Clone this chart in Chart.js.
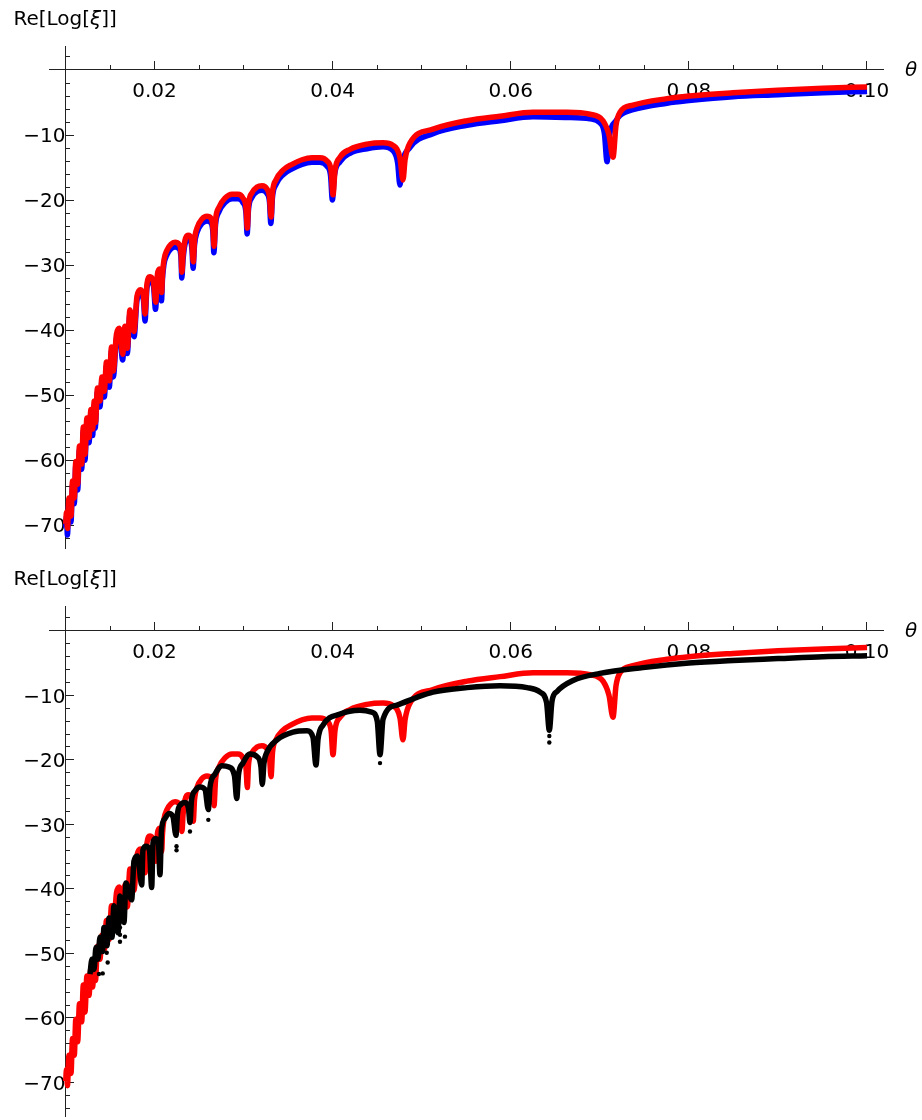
<!DOCTYPE html>
<html>
<head>
<meta charset="utf-8">
<script src="https://cdn.jsdelivr.net/npm/chart.js@4.4.1/dist/chart.umd.min.js"></script>
<style>
  html, body { margin: 0; padding: 0; background: #fff; }
  .panel { position: absolute; left: 0; width: 922px; height: 560px; }
  #p1 { top: 0; }
  #p2 { top: 560px; }
</style>
</head>
<body>
<div class="panel" id="p1"><canvas id="c1"></canvas></div>
<div class="panel" id="p2"><canvas id="c2"></canvas></div>
<script>
// [theta, Re[Log[xi]]]
const redCurve = [
  [0.01003,-69.8],[0.01011,-68.0],[0.01022,-70.5],[0.01039,-65.8],[0.01062,-68.6],[0.01079,-63.2],[0.01099,-65.8],
  [0.01116,-60.2],[0.01137,-63.7],[0.01157,-57.8],[0.01182,-60.6],[0.01200,-54.9],[0.01219,-59.1],[0.01241,-53.5],
  [0.01264,-56.5],[0.01286,-52.2],[0.01305,-55.2],[0.01323,-50.9],[0.01337,-54.2],[0.01359,-48.9],[0.01387,-50.9],
  [0.01410,-47.2],[0.01436,-49.4],[0.01460,-44.9],[0.01492,-47.8],[0.01517,-42.6],[0.01537,-46.3],[0.01573,-40.6],
  [0.01606,-39.7],[0.01642,-43.7],[0.01668,-39.4],[0.01694,-42.8],[0.01724,-36.9],[0.01769,-40.2],[0.01803,-34.8],
  [0.01842,-33.8],[0.01876,-34.8],[0.01893,-37.5],[0.01915,-32.9],[0.01949,-31.8],[0.01988,-32.6],[0.02013,-35.7],
  [0.02033,-31.4],[0.02056,-30.6],[0.02080,-34.2],
  [0.02089,-31.5],[0.02106,-29.2],[0.02140,-27.7],[0.02185,-26.8],[0.02230,-26.5],[0.02275,-26.8],[0.02297,-28.0],[0.02308,-31.1],
  [0.02320,-28.5],[0.02342,-26.2],[0.02376,-25.4],[0.02398,-25.5],[0.02421,-26.9],[0.02435,-29.5],
  [0.02449,-26.2],[0.02477,-24.3],[0.02533,-22.9],[0.02589,-22.5],[0.02634,-22.8],[0.02656,-24.3],[0.02668,-27.1],
  [0.02685,-23.1],[0.02724,-21.1],[0.02791,-19.7],[0.02870,-19.1],[0.02937,-19.1],[0.02993,-19.7],[0.03027,-21.2],[0.03042,-24.3],
  [0.03055,-20.8],[0.03094,-18.9],[0.03151,-18.0],[0.03207,-17.8],[0.03263,-18.3],[0.03291,-19.5],[0.03308,-22.6],
  [0.03325,-18.8],[0.03364,-16.9],[0.03443,-15.4],[0.03544,-14.5],[0.03656,-13.8],[0.03768,-13.5],[0.03858,-13.5],
  [0.03937,-14.0],[0.03982,-15.4],[0.04004,-19.2],
  [0.04027,-15.4],[0.04083,-13.4],[0.04195,-12.2],[0.04386,-11.4],[0.04566,-11.2],[0.04678,-11.6],[0.04756,-13.5],[0.04790,-16.9],
  [0.04813,-13.8],[0.04869,-11.2],[0.05127,-9.1],[0.05509,-7.8],[0.05879,-7.1],[0.06250,-6.5],[0.06632,-6.5],[0.06890,-6.8],
  [0.07036,-7.8],[0.07103,-10.0],[0.07148,-13.4],
  [0.07182,-8.5],[0.07227,-6.5],[0.07373,-5.4],[0.07755,-4.4],[0.08002,-4.0],[0.08496,-3.5],[0.09001,-3.1],[0.09507,-2.8],[0.10001,-2.6]
];

const blueCurve = [
  [0.01003,-70.4],[0.01011,-68.6],[0.01022,-71.5],[0.01039,-66.4],[0.01062,-69.5],[0.01079,-63.8],[0.01099,-66.7],
  [0.01116,-60.7],[0.01137,-64.6],[0.01157,-58.4],[0.01182,-61.4],[0.01200,-55.5],[0.01219,-60.0],[0.01241,-54.1],
  [0.01264,-57.3],[0.01286,-52.7],[0.01305,-56.2],[0.01323,-51.5],[0.01333,-55.1],[0.01359,-49.5],[0.01387,-51.8],
  [0.01410,-47.8],[0.01436,-50.3],[0.01460,-45.5],[0.01492,-48.8],[0.01517,-43.2],[0.01537,-47.2],[0.01573,-41.2],
  [0.01606,-40.3],[0.01642,-44.6],[0.01668,-40.0],[0.01694,-43.6],[0.01724,-37.5],[0.01771,-41.0],[0.01803,-35.4],
  [0.01842,-34.5],[0.01876,-35.4],[0.01893,-38.6],[0.01915,-33.5],[0.01949,-32.5],[0.01988,-33.2],[0.02011,-36.8],
  [0.02033,-32.0],[0.02056,-31.2],[0.02078,-35.5],
  [0.02089,-32.2],[0.02106,-29.9],[0.02140,-28.4],[0.02185,-27.5],[0.02230,-27.2],[0.02275,-27.5],[0.02297,-28.8],[0.02306,-32.0],
  [0.02320,-29.2],[0.02342,-26.8],[0.02376,-26.1],[0.02398,-26.2],[0.02421,-27.7],[0.02433,-30.5],
  [0.02449,-26.9],[0.02477,-25.0],[0.02533,-23.6],[0.02589,-23.2],[0.02634,-23.5],[0.02656,-25.1],[0.02666,-28.1],
  [0.02685,-23.8],[0.02724,-21.8],[0.02791,-20.4],[0.02870,-19.8],[0.02937,-19.8],[0.02993,-20.4],[0.03027,-22.0],[0.03040,-25.2],
  [0.03055,-21.5],[0.03094,-19.6],[0.03151,-18.7],[0.03207,-18.5],[0.03263,-19.0],[0.03291,-20.3],[0.03306,-23.6],
  [0.03325,-19.5],[0.03364,-17.6],[0.03443,-16.1],[0.03544,-15.2],[0.03656,-14.5],[0.03768,-14.2],[0.03858,-14.2],
  [0.03937,-14.8],[0.03977,-16.3],[0.03997,-20.0],
  [0.04020,-16.2],[0.04083,-14.1],[0.04195,-12.8],[0.04386,-12.1],[0.04566,-11.8],[0.04678,-12.4],[0.04730,-14.3],[0.04756,-17.7],
  [0.04780,-14.6],[0.04869,-11.9],[0.05127,-9.8],[0.05509,-8.5],[0.05879,-7.8],[0.06250,-7.2],[0.06632,-7.3],[0.06890,-7.5],
  [0.07000,-8.1],[0.07052,-9.8],[0.07081,-14.1],
  [0.07110,-10.0],[0.07182,-7.8],[0.07227,-7.0],[0.07373,-6.1],[0.07755,-5.1],[0.08002,-4.7],[0.08496,-4.1],[0.09001,-3.8],
  [0.09507,-3.5],[0.10001,-3.3]
];

const blackCurve = [
  [0.01275,-53.2],[0.01298,-50.9],[0.01320,-52.5],[0.01343,-49.1],[0.01365,-50.9],[0.01387,-47.5],[0.01416,-49.7],
  [0.01432,-46.0],[0.01466,-48.8],[0.01489,-44.5],[0.01522,-47.5],[0.01545,-42.6],[0.01590,-46.8],[0.01612,-41.1],
  [0.01657,-45.2],[0.01679,-39.1],[0.01743,-41.7],[0.01769,-35.7],[0.01809,-34.9],[0.01856,-39.4],
  [0.01870,-34.0],[0.01904,-33.4],[0.01943,-34.0],[0.01968,-39.8],
  [0.01983,-32.9],[0.02011,-32.2],[0.02044,-32.9],[0.02061,-37.8],
  [0.02078,-30.9],[0.02117,-29.1],[0.02162,-28.3],[0.02207,-28.8],[0.02241,-31.7],
  [0.02258,-28.3],[0.02297,-26.9],[0.02342,-26.6],[0.02381,-27.5],[0.02398,-29.7],
  [0.02415,-26.3],[0.02454,-24.8],[0.02510,-24.2],[0.02567,-24.6],[0.02604,-27.7],
  [0.02623,-24.2],[0.02679,-22.2],[0.02758,-20.9],[0.02836,-21.1],[0.02898,-22.5],[0.02923,-26.0],
  [0.02943,-22.3],[0.02993,-20.5],[0.03072,-19.1],[0.03150,-19.5],[0.03195,-21.1],[0.03210,-23.8],
  [0.03229,-20.5],[0.03263,-18.8],[0.03375,-16.9],[0.03555,-15.7],[0.03712,-15.5],[0.03779,-16.5],[0.03813,-20.8],
  [0.03836,-16.8],[0.03892,-14.6],[0.04083,-12.9],[0.04307,-12.3],[0.04439,-12.6],[0.04501,-14.0],[0.04532,-19.2],
  [0.04566,-13.7],[0.04723,-11.5],[0.04947,-10.3],[0.05127,-9.5],[0.05509,-8.8],[0.05879,-8.5],[0.06183,-8.8],
  [0.06329,-9.5],[0.06402,-11.1],[0.06433,-15.4],
  [0.06463,-10.9],[0.06520,-9.4],[0.06699,-7.7],[0.07002,-6.6],[0.07485,-5.7],[0.08002,-5.0],[0.08496,-4.6],
  [0.09001,-4.3],[0.09507,-4.0],[0.10001,-3.85]
];

const blackDots = [
  [0.06433,-16.3],[0.06433,-17.3],[0.04532,-20.5],[0.02604,-29.3],[0.02398,-31.1],[0.02247,-33.4],[0.02247,-34.0],
  [0.01668,-47.4],[0.01612,-46.0],[0.01612,-47.1],[0.01612,-48.2],[0.01463,-49.9],[0.01474,-51.4],[0.01418,-53.1],[0.01376,-53.2]
];

const xMajorTicks = [0.02, 0.04, 0.06, 0.08, 0.10];
const xMajorLabels = ["0.02", "0.04", "0.06", "0.08", "0.10"];
const xMinorTicks = [0.01, 0.015, 0.02, 0.025, 0.03, 0.035, 0.04, 0.045, 0.05, 0.055, 0.06, 0.065, 0.07, 0.075, 0.08, 0.085, 0.09, 0.095, 0.1];
const yMajorTicks = [-70, -60, -50, -40, -30, -20, -10];
const yMajorLabels = ["\u221270", "\u221260", "\u221250", "\u221240", "\u221230", "\u221220", "\u221210"];
const yMinorTicks = [2, 0, -2, -4, -6, -8, -10, -12, -14, -16, -18, -20, -22, -24, -26, -28, -30, -32, -34, -36, -38,
  -40, -42, -44, -46, -48, -50, -52, -54, -56, -58, -60, -62, -64, -66, -68, -70, -72, -74];

const xMin = 0.00815, xMax = 0.1018, xOrigin = 0.01;
const axisColor = "#222";
const font = { family: '"DejaVu Sans", sans-serif', size: 20 };

const pts = (list) => list.map(([x, y]) => ({ x, y }));
const fixTicks = (list) => (scale) => {
  scale.ticks = list.filter((v) => v >= scale.min && v <= scale.max).map((value) => ({ value }));
};
const noSpace = (horizontal) => (scale) => {
  if (horizontal) scale.height = 0; else scale.width = 0;
  scale.paddingLeft = scale.paddingRight = scale.paddingTop = scale.paddingBottom = 0;
};

const makeScales = (yMin, yMax) => ({
  x: {
    type: "linear", min: xMin, max: xMax, position: { y: 0 },
    afterBuildTicks: fixTicks(xMajorTicks), afterFit: noSpace(true),
    border: { color: axisColor, width: 1 },
    grid: { drawOnChartArea: false, tickLength: -9, tickColor: axisColor },
    ticks: { autoSkip: false, maxRotation: 0, padding: 19, color: "#000", font,
      callback: (v) => xMajorLabels[xMajorTicks.indexOf(v)] },
  },
  x2: {
    type: "linear", min: xMin, max: xMax, position: { y: 0 },
    afterBuildTicks: fixTicks(xMinorTicks), afterFit: noSpace(true),
    border: { display: false },
    grid: { drawOnChartArea: false, tickLength: -5, tickColor: axisColor },
    ticks: { display: false, autoSkip: false },
  },
  y: {
    type: "linear", min: yMin, max: yMax, position: { x: xOrigin },
    afterBuildTicks: fixTicks(yMajorTicks), afterFit: noSpace(false),
    border: { color: axisColor, width: 1 },
    grid: { drawOnChartArea: false, tickLength: -9, tickColor: axisColor },
    ticks: { autoSkip: false, padding: 18, labelOffset: 2, color: "#000", font,
      callback: (v) => yMajorLabels[yMajorTicks.indexOf(v)] },
  },
  y2: {
    type: "linear", min: yMin, max: yMax, position: { x: xOrigin },
    afterBuildTicks: fixTicks(yMinorTicks), afterFit: noSpace(false),
    border: { display: false },
    grid: { drawOnChartArea: false, tickLength: -5, tickColor: axisColor },
    ticks: { display: false, autoSkip: false },
  },
});

const axisTitles = {
  id: "axisTitles",
  afterDraw(chart) {
    const { ctx, chartArea, scales } = chart;
    const ox = scales.x.getPixelForValue(xOrigin);
    const oy = scales.y.getPixelForValue(0);
    ctx.save();
    ctx.fillStyle = "#000";
    ctx.textBaseline = "alphabetic";
    let x = ox - 52;
    const y = chartArea.top - 21;
    [["Re[Log[", ""], ["\u03be", "italic "], ["]]", ""]].forEach(([t, style]) => {
      ctx.font = `${style}20px "DejaVu Sans"`;
      ctx.fillText(t, x, y);
      x += ctx.measureText(t).width;
    });
    ctx.font = 'italic 20px "DejaVu Sans"';
    ctx.textBaseline = "middle";
    ctx.fillText("\u03b8", chartArea.right + 22, oy + 1);
    ctx.restore();
  },
};

const lineSet = (data, color) => ({
  data: pts(data), showLine: true, borderColor: color, backgroundColor: color,
  borderWidth: 5.5, borderJoinStyle: "round", borderCapStyle: "butt", cubicInterpolationMode: "monotone",
  pointRadius: 0, pointHoverRadius: 0, xAxisID: "x", yAxisID: "y",
});

const buildChart = (canvas, datasets, yMin, yMax, padBottom) =>
  new Chart(canvas.getContext("2d"), {
    type: "scatter",
    data: { datasets },
    options: {
      responsive: true, maintainAspectRatio: false, animation: false,
      layout: { padding: { left: 49, right: 39, top: 46, bottom: padBottom } },
      plugins: { legend: { display: false }, tooltip: { enabled: false } },
      scales: makeScales(yMin, yMax),
    },
    plugins: [axisTitles],
  });

// red drawn on top of blue
buildChart(document.getElementById("c1"), [lineSet(redCurve, "#ff0000"), lineSet(blueCurve, "#0000ff")], -73.5, 3.69, 12);

// black drawn on top of red
buildChart(document.getElementById("c2"), [
  { data: pts(blackDots), showLine: false, pointRadius: 2.2, pointBackgroundColor: "#000", pointBorderWidth: 0,
    xAxisID: "x", yAxisID: "y" },
  lineSet(blackCurve, "#000000"),
  lineSet(redCurve, "#ff0000"),
], -75.2, 3.85, 0);
</script>
</body>
</html>
